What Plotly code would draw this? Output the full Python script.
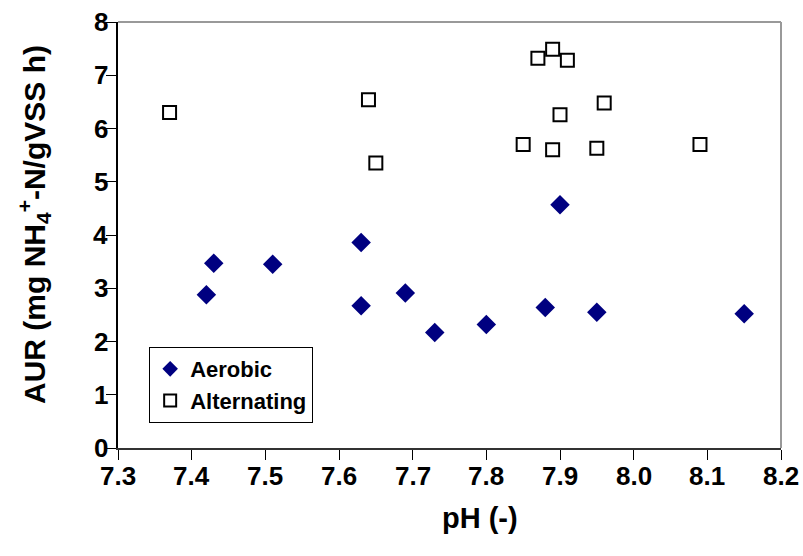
import plotly.graph_objects as go

aerobic_ph = [7.42, 7.43, 7.51, 7.63, 7.63, 7.69, 7.73, 7.80, 7.88, 7.90, 7.95, 8.15]
aerobic_aur = [2.88, 3.47, 3.45, 3.86, 2.67, 2.91, 2.17, 2.32, 2.64, 4.57, 2.55, 2.52]

alt_ph = [7.37, 7.64, 7.65, 7.85, 7.87, 7.89, 7.89, 7.90, 7.91, 7.95, 7.96, 8.09]
alt_aur = [6.30, 6.54, 5.35, 5.70, 7.32, 7.49, 5.60, 6.26, 7.28, 5.63, 6.48, 5.70]

x_ticks = [7.3, 7.4, 7.5, 7.6, 7.7, 7.8, 7.9, 8.0, 8.1, 8.2]
x_tick_text = ["7.3", "7.4", "7.5", "7.6", "7.7", "7.8", "7.9", "8.0", "8.1", "8.2"]
y_ticks = [0, 1, 2, 3, 4, 5, 6, 7, 8]
y_tick_text = ["0", "1", "2", "3", "4", "5", "6", "7", "8"]

font_family = "Liberation Sans"

W, H = 803, 556
L, R, T, B = 118, 22, 22, 108
pw, ph = W - L - R, H - T - B

fig = go.Figure()
fig.add_trace(go.Scatter(
    x=aerobic_ph, y=aerobic_aur, mode="markers", name="<b>Aerobic</b>",
    marker=dict(symbol="diamond", size=15, color="#000080", line=dict(width=0)),
))
fig.add_trace(go.Scatter(
    x=alt_ph, y=alt_aur, mode="markers", name="<b>Alternating</b>",
    marker=dict(symbol="square-open", size=13, color="#000000", line=dict(width=2, color="#000000")),
))

tick_font = dict(family=font_family, size=26, color="black")

annotations = []
for v, t in zip(x_ticks, x_tick_text):
    annotations.append(dict(text="<b>%s</b>" % t, xref="x", yref="paper", x=v, y=0,
                            xanchor="center", yanchor="top", yshift=-11,
                            showarrow=False, font=tick_font))
for v, t in zip(y_ticks, y_tick_text):
    annotations.append(dict(text="<b>%s</b>" % t, xref="paper", yref="y", x=0, y=v,
                            xanchor="right", yanchor="middle", xshift=-8,
                            showarrow=False, font=tick_font))
annotations.append(dict(text="<b>pH (-)</b>", xref="paper", yref="paper",
                        x=(480 - L) / pw, y=-(518 - (T + ph)) / ph, xanchor="center", yanchor="middle",
                        showarrow=False, font=dict(family=font_family, size=29, color="black")))
annotations.append(dict(text="<b>AUR (mg NH<sub>4</sub><sup>+</sup>-N/gVSS h)</b>", xref="paper", yref="paper",
                        x=-(L - 34) / pw, y=1 - (225 - T) / ph, xanchor="center", yanchor="middle",
                        textangle=-90, showarrow=False, font=dict(family=font_family, size=30, color="black")))

fig.update_layout(
    width=W, height=H,
    margin=dict(l=L, r=R, t=T, b=B, autoexpand=False),
    paper_bgcolor="white", plot_bgcolor="white",
    font=dict(family=font_family, color="black"),
    showlegend=True,
    legend=dict(
        x=0.047, y=0.237, xanchor="left", yanchor="top",
        bgcolor="white", bordercolor="black", borderwidth=1,
        font=dict(family=font_family, size=22, color="black"),
        tracegroupgap=2, itemsizing="constant", itemwidth=30,
    ),
    xaxis=dict(
        range=[7.3, 8.2], tickmode="array", tickvals=x_ticks, showticklabels=False,
        showgrid=False, zeroline=False,
        showline=True, linecolor="#333333", linewidth=2,
        ticks="outside", ticklen=10, tickwidth=1, tickcolor="#000000",
    ),
    yaxis=dict(
        range=[0, 8], tickmode="array", tickvals=y_ticks, showticklabels=False,
        showgrid=False, zeroline=False,
        showline=True, linecolor="#000000", linewidth=2,
        ticks="outside", ticklen=10, tickwidth=1, tickcolor="#000000",
    ),
    shapes=[
        dict(type="line", xref="paper", yref="paper", x0=0, x1=1, y0=1, y1=1,
             line=dict(color="#999999", width=2)),
        dict(type="line", xref="paper", yref="paper", x0=1, x1=1, y0=0, y1=1,
             line=dict(color="#999999", width=2)),
    ],
    annotations=annotations,
)

fig.write_html("out.html")
